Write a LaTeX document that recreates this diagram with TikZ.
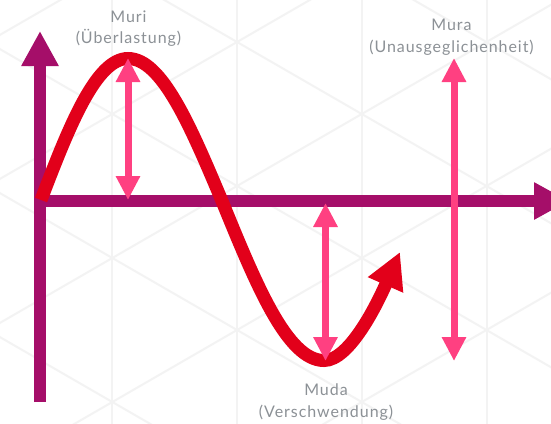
\documentclass[tikz,border=0pt]{standalone}
\usepackage{fontspec}
\setmainfont{Lato}[LetterSpace=6]
\usetikzlibrary{arrows.meta}
\definecolor{axispurple}{RGB}{165,14,105}
\definecolor{wavered}{RGB}{226,0,26}
\definecolor{mpink}{RGB}{255,64,129}
\definecolor{labelgray}{RGB}{140,145,150}
\definecolor{gridgray}{RGB}{243,243,243}
\begin{document}
\begin{tikzpicture}[x=1pt,y=-1pt,
  gridline/.style={gridgray, line width=2pt},
  axisline/.style={axispurple, line width=12pt, -{Triangle[length=35pt,width=35pt]}},
  wave/.style={wavered, line width=13pt, -{Triangle[length=36pt,width=36pt]}},
  pinkarrow/.style={mpink, line width=7pt, {Triangle[length=24pt,width=23pt]}-{Triangle[length=24pt,width=23pt]}},
  lbl/.style={labelgray, align=center, inner sep=0pt, anchor=base, font=\fontsize{16}{21.5}\selectfont}]
\useasboundingbox (0,0) rectangle (551,423);
\clip (0,0) rectangle (551,423);
\fill[white] (0,0) rectangle (551,423);
% background isometric grid
\foreach \vx in {-13,112,237,362,487} \draw[gridline] (\vx,-5) -- (\vx,430);
\foreach \k in {-2,...,4} \draw[gridline] (-20,{-106.4+144*\k}) -- (571,{234.8+144*\k});
\foreach \k in {-2,...,3} \draw[gridline] (-20,{190.4+144*\k}) -- (571,{-150.8+144*\k});
% coordinates
\coordinate (yBot) at (40,402);
\coordinate (yTip) at (40,31);
\coordinate (xStart) at (34,201);
\coordinate (xTip) at (569,201);
\coordinate (waveStart) at (41,200);
\coordinate (peak) at (128,58.5);
\coordinate (cross) at (222,201);
\coordinate (trough) at (324,360.5);
\coordinate (waveTip) at (400,252);
\coordinate (muriTop) at (128,58);
\coordinate (muriBot) at (128,200);
\coordinate (mudaTop) at (325.5,203);
\coordinate (mudaBot) at (325.5,361);
\coordinate (muraTop) at (454,58);
\coordinate (muraBot) at (454,361);
% axes
\draw[axisline] (yBot) -- (yTip);
\draw[axisline] (xStart) -- (xTip);
% wave
\draw[wave] (waveStart) .. controls (69.4,125.5) and (96.2,58.5) .. (peak)
  .. controls (161.9,58.5) and (190.6,126.5) .. (cross)
  .. controls (256.1,284.5) and (287.2,360.5) .. (trough)
  .. controls (350,360.5) and (378,302) .. (waveTip);
% pink double arrows
\draw[pinkarrow] (muriBot) -- (muriTop);
\draw[pinkarrow] (mudaBot) -- (mudaTop);
\draw[pinkarrow] (muraBot) -- (muraTop);
% labels (anchor = baseline of the last line)
\node[lbl] (muri) at (128.5,43.5) {Muri\\(Überlastung)};
\node[lbl] (mura) at (451.5,52) {Mura\\(Unausgeglichenheit)};
\node[lbl] (muda) at (326,417) {Muda\\(Verschwendung)};
\end{tikzpicture}
\end{document}
